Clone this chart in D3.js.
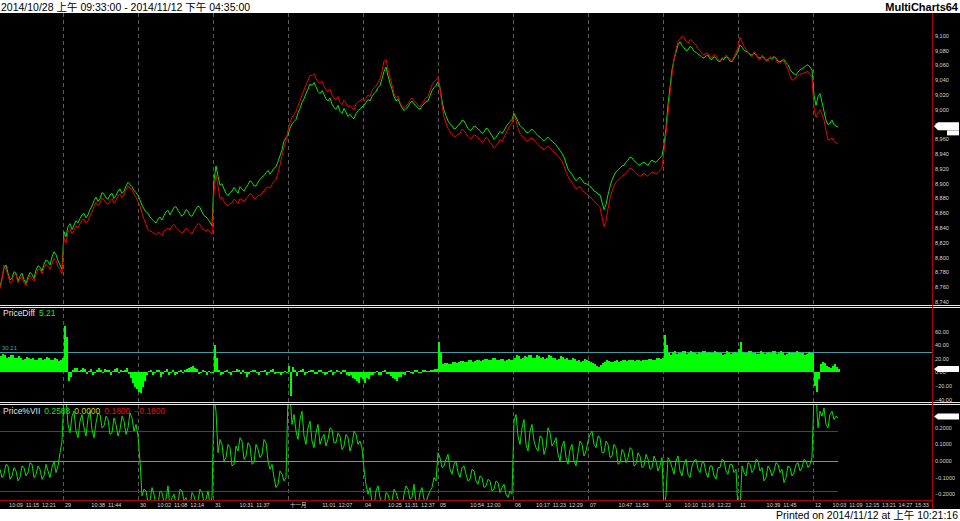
<!DOCTYPE html>
<html><head><meta charset="utf-8">
<script src="https://cdn.jsdelivr.net/npm/d3@7"></script>
<style>body{margin:0;background:#fff;overflow:hidden}svg{display:block}</style>
</head><body>
<svg id="chart" width="960" height="521"></svg>
<script>
// ---------------- DATA ----------------
const titleText = "2014/10/28 上午 09:33:00 - 2014/11/12 下午 04:35:00";
const brandText = "MultiCharts64";
const printedText = "Printed on 2014/11/12 at 上午 10:21:16";
const sampleMinutes = 8;        // one sample every 8 trading minutes
const sessionMinutes = 300;     // 08:45 - 13:45
const firstBarOffset = 48;      // first bar 09:33 on 10/28

const timeTickLabels = ["10:09","11:15","12:21","29","10:38","11:44","30","10:02","11:08","12:14","31","10:31","11:37","十一月","11:01","12:07","04","10:25","11:31","12:37","05","10:54","12:00","06","10:17","11:23","12:29","07","10:47","11:53","10","10:10","11:16","12:22","11","10:39","11:45","12","10:03","11:09","12:15","13:21","14:27","15:33"];
const timeTickDays  = [0,0,0,1,1,1,2,2,2,2,3,3,3,4,4,4,5,5,5,5,6,6,6,7,7,7,7,8,8,8,9,9,9,9,10,10,10,11,11,11,11,11,11,11];
const dayBreaks = [1,2,3,4,5,6,7,8,9,10,11];

const priceTicks = [8740,8760,8780,8800,8820,8840,8860,8880,8900,8920,8940,8960,8980,9000,9020,9040,9060,9080,9100];
const diffTicks = [60,40,20,0,-20,-40];
const viiTicks = [0.2,0.1,0,-0.1,-0.2];

const greenPrice = [
8760,8772,8786,8790,8779,8770,8772,8781,8779,8768,8775,8779,8770,8765,8774,8780,8777,8772,8783,8789,8787,8782,8791,8797,8795,8790,8801,8808,8804,8796,8790,8784,
8835,8828,8842,8846,8838,8844,8850,8847,8853,8858,8860,8854,8858,8865,8870,8877,8882,8876,8880,8888,8886,8881,8879,8885,8887,8880,8884,8890,8893,8887,8890,8897,8902,8899,8896,8891,8888,
8884,8878,8871,8866,8862,8860,8855,8852,8849,8847,8852,8855,8851,8857,8862,8864,8858,8863,8868,8869,8864,8860,8856,8859,8865,8863,8857,8856,8861,8866,8870,8868,8862,8857,8855,8852,8848,8843,
8905,8924,8910,8898,8900,8893,8887,8884,8888,8890,8895,8891,8887,8896,8893,8890,8895,8899,8904,8902,8897,8897,8902,8906,8909,8911,8915,8918,8913,8917,8921,8923,8930,8938,8946,8958,8962,
8966,8975,8981,8984,8987,8996,9002,9010,9015,9022,9028,9035,9033,9037,9031,9025,9022,9026,9021,9015,9012,9016,9008,9003,9001,9006,8998,8995,9002,8997,8991,8994,8990,8988,8995,8999,9001,9004,
9006,9010,9014,9012,9018,9022,9025,9030,9033,9042,9052,9058,9046,9036,9028,9018,9012,9015,9008,9003,8999,9002,9004,9009,9012,9008,9006,9002,9001,9005,9008,9011,9012,9019,9026,9030,9033,
9038,9030,9012,8999,8992,8985,8981,8979,8974,8975,8979,8981,8986,8985,8980,8975,8972,8974,8978,8977,8974,8972,8968,8970,8975,8974,8969,8965,8960,8963,8967,8971,8968,8972,8977,8981,8984,8987,
8995,8990,8984,8979,8976,8974,8970,8969,8972,8974,8971,8968,8965,8963,8960,8958,8961,8963,8960,8958,8955,8953,8949,8945,8941,8936,8928,8920,8916,8913,8908,8904,8907,8909,8905,8901,8900,
8899,8896,8894,8890,8889,8886,8885,8875,8865,8872,8885,8896,8905,8911,8916,8919,8921,8924,8925,8929,8932,8936,8935,8931,8929,8926,8925,8928,8929,8927,8925,8929,8932,8930,8929,8932,8935,8938,
8952,8975,9007,9030,9054,9068,9078,9088,9092,9087,9084,9080,9081,9086,9084,9079,9078,9075,9074,9071,9070,9073,9074,9069,9068,9072,9070,9066,9065,9069,9068,9072,9070,9066,9065,9070,9074,
9080,9088,9085,9081,9079,9078,9075,9074,9077,9074,9071,9070,9072,9070,9067,9068,9071,9068,9072,9070,9066,9065,9067,9068,9064,9061,9055,9051,9049,9047,9051,9054,9056,9057,9060,9061,9058,9054,
9020,9006,9018,9022,9010,8998,8986,8980,8982,8986,8980,8978,8977];

const redPrice = [
8758,8770,8790,8784,8776,8766,8768,8778,8777,8766,8771,8775,8766,8762,8770,8776,8772,8768,8778,8784,8784,8778,8786,8791,8788,8784,8792,8799,8796,8788,8784,8778,
8826,8820,8835,8838,8832,8837,8843,8840,8846,8851,8852,8847,8850,8857,8862,8869,8875,8870,8874,8881,8878,8874,8872,8877,8880,8874,8878,8883,8886,8881,8885,8892,8897,8894,8892,8886,8882,
8876,8870,8860,8852,8845,8838,8836,8835,8833,8831,8834,8833,8830,8836,8838,8840,8837,8843,8845,8841,8838,8836,8833,8836,8840,8837,8834,8832,8838,8842,8846,8845,8840,8838,8836,8838,8835,8832,
8890,8912,8896,8880,8882,8876,8872,8870,8873,8874,8879,8877,8873,8880,8878,8876,8880,8883,8887,8885,8880,8880,8884,8884,8888,8890,8894,8896,8894,8899,8903,8906,8915,8925,8938,8950,8958,
8972,8983,8990,8994,8998,9006,9012,9020,9027,9034,9040,9047,9046,9049,9042,9038,9036,9039,9032,9027,9025,9028,9020,9016,9014,9018,9010,9007,9013,9009,9004,9006,9003,9000,9008,9011,9012,9015,
9012,9016,9020,9018,9026,9030,9032,9037,9042,9052,9066,9068,9055,9044,9034,9022,9016,9019,9010,9005,9002,9005,9008,9013,9016,9012,9010,9006,9004,9009,9012,9016,9018,9026,9034,9038,9040,
9044,9030,9006,8990,8982,8975,8970,8968,8963,8964,8967,8968,8974,8972,8968,8964,8961,8962,8966,8965,8962,8960,8956,8958,8963,8961,8956,8953,8948,8951,8955,8960,8957,8963,8968,8974,8979,8982,
8992,8986,8975,8968,8965,8962,8958,8958,8961,8962,8959,8956,8953,8950,8948,8946,8949,8951,8948,8946,8943,8940,8937,8934,8930,8924,8916,8910,8905,8902,8897,8893,8895,8896,8892,8889,8887,
8885,8882,8880,8876,8874,8871,8868,8855,8842,8850,8866,8880,8890,8897,8902,8905,8907,8910,8912,8915,8918,8921,8920,8917,8914,8912,8910,8912,8914,8912,8910,8913,8916,8915,8913,8915,8918,8921,
8945,8968,8995,9022,9048,9068,9082,9092,9096,9100,9098,9093,9090,9095,9094,9090,9088,9083,9080,9076,9074,9077,9076,9072,9070,9075,9074,9069,9066,9071,9070,9074,9072,9068,9066,9072,9078,
9085,9098,9092,9086,9082,9078,9074,9072,9079,9076,9070,9068,9074,9072,9066,9066,9072,9070,9073,9068,9063,9064,9066,9066,9060,9055,9046,9040,9042,9044,9046,9048,9049,9050,9051,9052,9048,9044,
9002,8990,8996,9000,8994,8986,8972,8959,8960,8962,8958,8955,8955];

const priceDiff = [
24,27,26,22,23,25,25,21,22,24,21,19,20,23,22,20,21,18,19,22,22,19,20,23,21,18,19,21,20,17,18,22,
68,52,-12,-6,4,7,6,2,3,6,5,-2,2,5,-3,1,4,7,3,0,5,3,4,-4,2,5,6,1,4,2,3,6,-2,-8,-15,-22,-25,
-28,-30,-22,-12,-4,2,3,-4,-1,3,4,-6,-2,2,5,-3,1,4,-4,-2,2,3,1,3,5,6,8,9,7,5,-2,1,4,2,-3,2,1,-1,
40,22,3,-3,-2,2,4,-1,-3,2,2,5,3,-2,3,1,-6,-2,2,3,4,-1,-3,2,2,4,-4,1,3,5,-2,1,1,-3,-1,2,1,
10,-34,8,3,-5,2,3,5,-3,1,2,4,4,-2,-2,3,3,1,-4,-2,2,4,-3,1,4,2,-2,3,3,-4,-5,-3,-8,-10,-12,-15,-6,-10,
-15,-8,-10,-4,-4,1,2,-3,-3,2,3,-2,-2,-5,-8,-10,-12,-7,-6,-2,-3,2,2,-1,-2,3,3,1,1,3,4,2,2,4,3,5,5,
45,30,12,14,14,12,13,15,16,14,15,17,17,15,16,18,18,16,17,19,19,17,18,20,20,18,19,21,21,19,18,20,20,17,19,20,18,19,
22,25,24,20,21,24,23,26,25,21,22,25,24,22,23,20,21,25,24,21,22,19,20,24,23,20,21,18,19,21,20,17,18,16,17,20,19,
17,16,14,12,10,8,11,14,16,18,17,15,16,17,18,16,17,18,19,17,18,19,18,17,19,19,17,18,19,18,20,20,18,19,21,21,20,22,
55,40,28,26,30,31,27,29,29,32,31,27,28,31,30,28,27,30,29,32,31,29,30,28,28,31,30,29,29,26,27,31,30,27,28,30,29,
35,45,30,29,28,32,31,28,29,27,27,31,30,27,28,30,29,32,31,27,28,31,30,26,27,30,29,28,28,31,30,29,29,26,27,30,29,28,
-20,-28,-10,12,15,14,10,8,6,10,12,8,5.21];
const diffLevel = 30.21;

const priceVII = [
-0.05,-0.1,-0.08,-0.02,-0.03,-0.11,-0.09,-0.04,-0.06,-0.12,-0.1,-0.03,-0.04,-0.09,-0.07,-0.01,-0.02,-0.1,-0.08,-0.03,-0.05,-0.11,-0.09,-0.02,-0.06,-0.1,-0.04,0.0,-0.07,-0.03,0.05,0.12,
0.4,0.38,0.22,0.17,0.27,0.3,0.18,0.14,0.24,0.28,0.2,0.15,0.26,0.3,0.19,0.14,0.23,0.29,0.28,0.2,0.21,0.27,0.25,0.16,0.17,0.26,0.22,0.15,0.19,0.27,0.24,0.16,0.2,0.29,0.26,0.18,0.22,
0.15,0.0,-0.21,-0.17,-0.18,-0.25,-0.24,-0.16,-0.2,-0.27,-0.26,-0.18,-0.19,-0.25,-0.23,-0.15,-0.28,-0.22,-0.2,-0.26,-0.25,-0.17,-0.18,-0.24,-0.22,-0.29,-0.27,-0.19,-0.21,-0.26,-0.24,-0.17,-0.19,-0.25,-0.23,-0.18,-0.26,-0.22,
0.38,0.3,0.05,0.13,0.1,0.0,0.02,0.1,0.08,-0.03,-0.02,0.09,0.06,0.14,0.12,0.01,0.03,0.11,0.09,-0.02,-0.01,0.1,0.07,0.02,0.04,0.13,0.11,0.0,-0.05,-0.02,-0.1,-0.16,-0.14,-0.06,-0.08,-0.12,-0.1,
0.4,0.4,0.22,0.28,0.18,0.13,0.25,0.3,0.15,0.1,0.2,0.24,0.12,0.08,0.17,0.22,0.1,0.14,0.16,0.09,0.13,0.2,0.19,0.11,0.11,0.17,0.15,0.07,0.09,0.16,0.14,0.06,0.1,0.18,0.16,0.1,0.12,0.08,
-0.05,-0.14,-0.2,-0.16,-0.25,-0.28,-0.18,-0.15,-0.22,-0.26,-0.27,-0.19,-0.2,-0.25,-0.24,-0.17,-0.19,-0.23,-0.26,-0.29,-0.2,-0.15,-0.17,-0.23,-0.22,-0.14,-0.25,-0.28,-0.19,-0.16,-0.23,-0.25,-0.21,-0.18,-0.16,-0.1,-0.12,
0.05,0.02,-0.04,-0.03,0.01,0.04,-0.05,-0.08,-0.02,0.0,-0.07,-0.1,-0.04,-0.03,-0.08,-0.12,-0.11,-0.05,-0.06,-0.12,-0.14,-0.09,-0.1,-0.16,-0.15,-0.11,-0.12,-0.18,-0.17,-0.12,-0.13,-0.19,-0.16,-0.14,-0.2,-0.22,-0.18,-0.2,
0.24,0.28,0.15,0.1,0.2,0.25,0.1,0.06,0.18,0.22,0.12,0.08,0.06,0.15,0.14,0.04,0.08,0.2,0.17,0.09,0.11,0.14,0.04,0.0,0.09,0.12,0.02,-0.02,0.07,0.1,0.0,-0.03,0.05,0.12,0.1,0.03,0.06,
0.12,0.16,0.18,0.1,0.08,0.15,0.14,0.05,0.05,0.12,0.1,0.02,0.03,0.1,0.08,-0.02,-0.01,0.07,0.05,-0.01,0.02,0.08,0.07,-0.03,-0.02,0.05,0.03,-0.04,-0.03,0.04,0.01,-0.05,-0.04,0.03,0.0,-0.06,-0.03,0.02,
-0.3,-0.2,0.02,0.0,-0.04,-0.08,0.0,0.03,-0.06,-0.09,-0.02,0.01,-0.08,-0.1,-0.03,0.0,0.01,-0.05,-0.07,-0.01,-0.01,-0.07,-0.1,-0.03,-0.03,-0.09,-0.11,-0.04,-0.04,0.01,0.0,-0.06,-0.08,-0.02,-0.02,-0.07,-0.05,
-0.3,-0.3,-0.03,-0.07,-0.09,-0.01,-0.02,-0.07,-0.05,0.01,0.0,-0.06,-0.04,-0.12,-0.1,-0.03,-0.05,-0.09,-0.06,-0.01,-0.02,-0.07,-0.05,-0.13,-0.1,-0.03,-0.04,-0.09,-0.07,-0.02,-0.01,-0.06,-0.04,0.01,0.0,-0.04,-0.02,0.02,
0.4,0.4,0.2,0.3,0.27,0.32,0.22,0.2,0.28,0.3,0.25,0.27,0.2588];
const viiZero = 0.0, viiUpper = 0.18, viiLower = -0.18;

// ---------------- DRAW ----------------
const svg = d3.select("#chart");
const FONT = "'Liberation Sans', Arial, 'Noto Sans CJK TC', sans-serif";
const plotRight = 932;
const P1 = {top: 13, bottom: 305}, P2 = {top: 307, bottom: 402}, P3 = {top: 404, bottom: 500};

const x = d3.scaleLinear().domain([0, 3728]).range([0, plotRight]);
const tOf = i => i * sampleMinutes;
const dayStartT = d => d * sessionMinutes - firstBarOffset;
const labelT = (d, lab) => {
  if (lab.includes(":")) { const [h, m] = lab.split(":").map(Number); return dayStartT(d) + h * 60 + m - 525; }
  return dayStartT(d);
};

const yPrice = d3.scaleLinear().domain([8735.9, 9131.1]).range([P1.bottom, P1.top]);
const yDiff = d3.scaleLinear().domain([-43.4, 96.3]).range([P2.bottom, P2.top]);
const yVii = d3.scaleLinear().domain([-0.235, 0.3434]).range([P3.bottom, P3.top]);

// backgrounds
svg.append("rect").attr("x", 0).attr("y", 0).attr("width", 960).attr("height", 521).attr("fill", "#fff");
svg.append("rect").attr("x", 0).attr("y", 13).attr("width", 960).attr("height", 496).attr("fill", "#000");

// title
svg.append("text").attr("x", 1).attr("y", 10.5).attr("font-family", FONT).attr("font-size", 10.5).attr("fill", "#000").text(titleText);
svg.append("text").attr("x", 958).attr("y", 10.5).attr("text-anchor", "end").attr("font-family", FONT).attr("font-size", 11).attr("font-weight", "bold").attr("fill", "#000").text(brandText);
svg.append("text").attr("x", 958).attr("y", 519).attr("text-anchor", "end").attr("font-family", FONT).attr("font-size", 10.5).attr("fill", "#000").text(printedText);

// clip paths
const defs = svg.append("defs");
[["c1", P1], ["c2", P2], ["c3", P3]].forEach(([id, p]) => {
  defs.append("clipPath").attr("id", id).append("rect").attr("x", 0).attr("y", p.top).attr("width", plotRight).attr("height", p.bottom - p.top);
});

// day separators
svg.append("g").selectAll("line").data(dayBreaks).join("line")
  .attr("x1", d => Math.round(x(dayStartT(d))) + 0.5).attr("x2", d => Math.round(x(dayStartT(d))) + 0.5)
  .attr("y1", P1.top).attr("y2", P3.bottom)
  .attr("stroke", "#5a5a5a").attr("stroke-width", 1).attr("stroke-dasharray", "4,3");

// ---- panel 1: prices
const g1 = svg.append("g").attr("clip-path", "url(#c1)");
const priceLine = d3.line().x((d, i) => x(tOf(i))).y(d => yPrice(d));
g1.append("path").datum(greenPrice).attr("d", priceLine).attr("fill", "none").attr("stroke", "#00e800").attr("stroke-width", 1);
g1.append("path").datum(redPrice).attr("d", priceLine).attr("fill", "none").attr("stroke", "#f00000").attr("stroke-width", 1);

// ---- panel 2: price diff histogram
const g2 = svg.append("g").attr("clip-path", "url(#c2)");
g2.append("line").attr("x1", 0).attr("x2", plotRight).attr("y1", Math.round(yDiff(diffLevel)) + 0.5).attr("y2", Math.round(yDiff(diffLevel)) + 0.5)
  .attr("stroke", "#3a9ea6").attr("stroke-width", 1);
g2.selectAll("rect.h").data(priceDiff).join("rect").attr("class", "h")
  .attr("x", (d, i) => x(tOf(i)))
  .attr("width", (d, i) => x(tOf(i + 1)) - x(tOf(i)))
  .attr("y", d => yDiff(Math.max(0, d)))
  .attr("height", d => Math.max(1, Math.abs(yDiff(d) - yDiff(0))))
  .attr("fill", "#00ff00").attr("shape-rendering", "crispEdges");
svg.append("text").attr("x", 2).attr("y", yDiff(diffLevel) - 2).attr("font-family", FONT).attr("font-size", 6).attr("fill", "#3aa8b0").text(diffLevel.toFixed(2));

// ---- panel 3: Price%VII
const g3 = svg.append("g").attr("clip-path", "url(#c3)");
const lastX = x(tOf(priceVII.length - 1));
[[viiUpper, "#b01818"], [viiLower, "#b01818"], [viiZero, "#9c9c00"]].forEach(([v, c]) => {
  g3.append("line").attr("x1", 0).attr("x2", lastX).attr("y1", Math.round(yVii(v)) + 0.5).attr("y2", Math.round(yVii(v)) + 0.5)
    .attr("stroke", c).attr("stroke-width", 1);
});
const viiLine = d3.line().x((d, i) => x(tOf(i))).y(d => yVii(d));
g3.append("path").datum(priceVII).attr("d", viiLine).attr("fill", "none").attr("stroke", "#00e400").attr("stroke-width", 1);

// panel borders
[305.5, 307.5, 402.5, 404.5].forEach(y => {
  svg.append("line").attr("x1", 0).attr("x2", 960).attr("y1", y).attr("y2", y).attr("stroke", "#e8e8e8").attr("stroke-width", 1);
});
// axes lines (red)
svg.append("line").attr("x1", plotRight + 0.5).attr("x2", plotRight + 0.5).attr("y1", 13).attr("y2", 509).attr("stroke", "#b00000");
svg.append("line").attr("x1", 0).attr("x2", plotRight).attr("y1", P3.bottom + 0.5).attr("y2", P3.bottom + 0.5).attr("stroke", "#b00000");

// y axis labels
const axFont = 5.5, axColor = "#d8d8d8";
function yLabels(ticks, scale, fmt) {
  svg.append("g").selectAll("text").data(ticks).join("text")
    .attr("x", plotRight + 3).attr("y", d => scale(d)).attr("dy", "0.35em")
    .attr("font-family", FONT).attr("font-size", axFont).attr("fill", axColor).text(fmt);
}
yLabels(priceTicks, yPrice, d3.format(","));
yLabels(diffTicks, yDiff, d => d3.format(".2f")(d));
yLabels(viiTicks, yVii, d => d3.format(".4f")(d));

// last value markers
function marker(yc, h) {
  const x0 = plotRight + 2, x1 = 959;
  svg.append("path").attr("d", `M${x0},${yc} L${x0 + 4},${yc - h / 2} L${x1},${yc - h / 2} L${x1},${yc + h / 2} L${x0 + 4},${yc + h / 2} Z`).attr("fill", "#fff");
}
marker(yPrice(greenPrice[greenPrice.length - 1]) - 0.5, 8);
svg.append("rect").attr("x", 947).attr("y", yPrice(greenPrice[greenPrice.length - 1]) + 3.5).attr("width", 12).attr("height", 5).attr("fill", "#fff");
marker(yDiff(priceDiff[priceDiff.length - 1]), 6);
marker(yVii(priceVII[priceVII.length - 1]) - 1.5, 6);

// time axis labels
svg.append("g").selectAll("text").data(timeTickLabels).join("text")
  .attr("x", (d, i) => x(labelT(timeTickDays[i], d)) + (d.includes(":") ? 7 : 2))
  .attr("text-anchor", (d) => d.includes(":") ? "middle" : "start")
  .attr("y", 507).attr("font-family", FONT).attr("font-size", axFont).attr("fill", axColor).text(d => d);

// panel titles
const t2 = svg.append("text").attr("x", 3).attr("y", 316).attr("font-family", FONT).attr("font-size", 8.5);
t2.append("tspan").attr("fill", "#e0e0e0").text("PriceDiff");
t2.append("tspan").attr("dx", 4).attr("fill", "#20e020").text(d3.format(".2f")(priceDiff[priceDiff.length - 1]));
const t3 = svg.append("text").attr("x", 3).attr("y", 413.5).attr("font-family", FONT).attr("font-size", 8.5);
t3.append("tspan").attr("fill", "#e0e0e0").text("Price%VII");
t3.append("tspan").attr("dx", 4).attr("fill", "#20e020").text(d3.format(".4f")(priceVII[priceVII.length - 1]));
t3.append("tspan").attr("dx", 4).attr("fill", "#d0d000").text(d3.format(".4f")(viiZero));
t3.append("tspan").attr("dx", 4).attr("fill", "#e01010").text(d3.format(".4f")(viiUpper));
t3.append("tspan").attr("dx", 4).attr("fill", "#e01010").text(d3.format(".4f")(viiLower));
</script>
</body></html>
